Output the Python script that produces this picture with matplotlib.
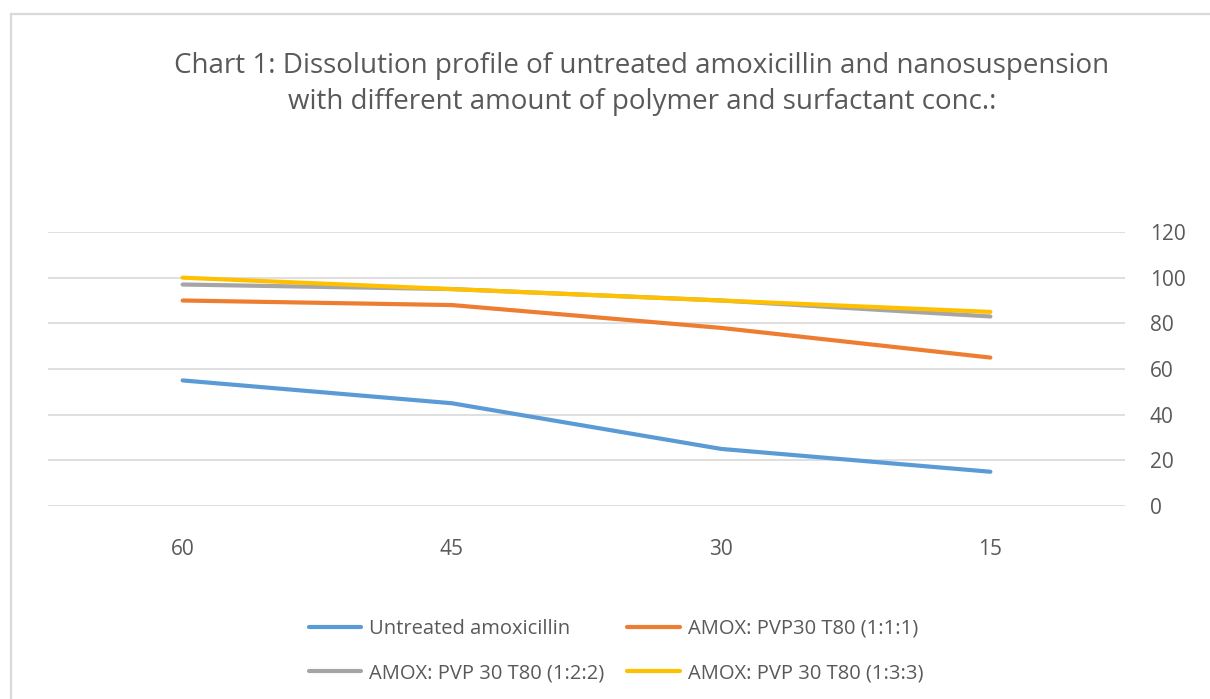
import matplotlib.pyplot as plt
from matplotlib.patches import Rectangle

plt.rcParams['font.family'] = ['Open Sans', 'DejaVu Sans']
plt.rcParams['ytick.major.pad'] = 18
plt.rcParams['xtick.major.pad'] = 24

# --------------------------------------------------------------------------------
# DATA
time_labels = ['60', '45', '30', '15']
untreated = [55, 45, 25, 15]
amox_111 = [90, 88, 78, 65]
amox_122 = [97, 95, 90, 83]
amox_133 = [100, 95, 90, 85]

series_names = ['Untreated amoxicillin', 'AMOX: PVP30 T80 (1:1:1)',
                'AMOX: PVP 30 T80 (1:2:2)', 'AMOX: PVP 30 T80 (1:3:3)']
series_colors = ['#5B9BD5', '#ED7D31', '#A5A5A5', '#FFC000']
y_ticks = [0, 20, 40, 60, 80, 100, 120]

# --------------------------------------------------------------------------------
# FIGURE
fig = plt.figure(figsize=(12.10, 6.99), dpi=100)
ax = fig.add_axes([48 / 1210, 1 - 506 / 699, (1125 - 48) / 1210, (506 - 232) / 699])

# light frame round the chart area
fig.patches.append(Rectangle((11 / 1210, -0.1), 1.2, 1 - 14 / 699 + 0.1,
                             transform=fig.transFigure, fill=False,
                             edgecolor='#D9D9D9', linewidth=1.6))

x = range(len(time_labels))
for vals, name, col in zip([untreated, amox_111, amox_122, amox_133], series_names, series_colors):
    ax.plot(x, vals, color=col, lw=3.0, solid_capstyle='round', solid_joinstyle='round', label=name)

ax.set_xlim(-0.5, len(time_labels) - 0.5)
ax.set_ylim(0, 120)
ax.set_xticks(list(x))
ax.set_xticklabels(time_labels)
ax.set_yticks(y_ticks)
ax.yaxis.tick_right()
ax.tick_params(axis='both', length=0, colors='#595959', labelsize=15)
ax.grid(axis='y', color='#D9D9D9', lw=1.2)
ax.set_axisbelow(True)
for s in ax.spines.values():
    s.set_visible(False)

fig.text(642 / 1210, 1 - 84 / 699,
         'Chart 1: Dissolution profile of untreated amoxicillin and nanosuspension\n'
         'with different amount of polymer and surfactant conc.:',
         ha='center', va='center', fontsize=20, color='#595959', linespacing=1.38)

# legend filled row by row like the original
handles, labels = ax.get_legend_handles_labels()
order = [0, 2, 1, 3]
fig.legend([handles[i] for i in order], [labels[i] for i in order], ncol=2, loc='center',
           bbox_to_anchor=(616 / 1210, 1 - 651 / 699),
           frameon=False, fontsize=14.5, labelcolor='#595959', handlelength=2.6,
           handletextpad=0.4, columnspacing=1.15, labelspacing=1.2)

fig.savefig('out.png', dpi=100)
